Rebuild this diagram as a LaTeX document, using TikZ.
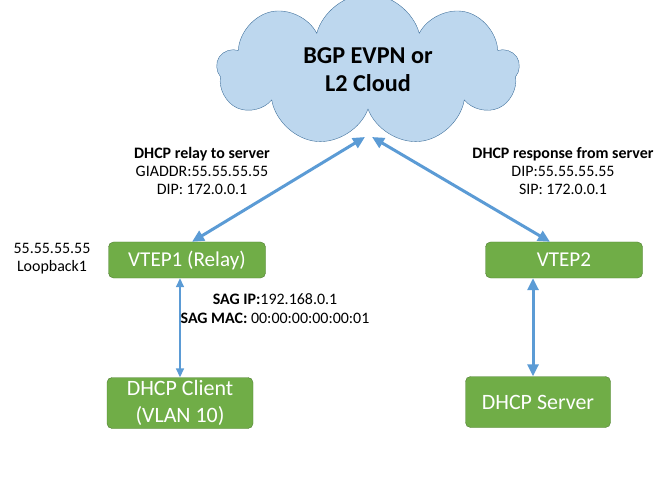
\documentclass[tikz,border=0pt]{standalone}
\usepackage{fontspec}
\setmainfont{Carlito}
\usetikzlibrary{shapes.symbols,arrows.meta}
\definecolor{boxgreen}{HTML}{70AD47}
\definecolor{boxedge}{HTML}{507E32}
\definecolor{cloudfill}{HTML}{BDD7EE}
\definecolor{cloudedge}{HTML}{41719C}
\definecolor{linkblue}{HTML}{5B9BD5}

\begin{document}
\begin{tikzpicture}[x=1bp,y=-1bp,
  box/.style={draw=boxedge, fill=boxgreen, rounded corners=5bp, text=white, inner sep=0pt, align=center},
  link/.style={linkblue, line width=3bp, {Triangle[length=12bp,width=11bp]}-{Triangle[length=12bp,width=11bp]}},
  thinlink/.style={linkblue, line width=1.5bp, {Triangle[length=9bp,width=8bp]}-{Triangle[length=9bp,width=8bp]}},
  note/.style={align=center, font=\fontsize{16}{18.5}\selectfont}]
\useasboundingbox (0,0) rectangle (665,480);

% Cloud
\node[cloud, cloud puffs=9, aspect=2, draw=cloudedge, fill=cloudfill, minimum width=302bp, minimum height=152bp, inner sep=0pt, align=center, font=\bfseries\fontsize{24.3}{28}\selectfont] (cloud) at (368,70) {BGP EVPN or\\L2 Cloud};
\coordinate (cloudl) at (365,137);
\coordinate (cloudr) at (372,137);

% Switches and hosts
\node[box, minimum width=157bp, minimum height=36bp, font=\fontsize{21.2}{24}\selectfont] (vtep1) at (187,260) {VTEP1 (Relay)};
\node[box, minimum width=157bp, minimum height=36bp, font=\fontsize{21.2}{24}\selectfont] (vtep2) at (564,260) {VTEP2};
\node[box, minimum width=146bp, minimum height=51bp, font=\fontsize{22}{27}\selectfont] (client) at (180,403) {DHCP Client\\(VLAN 10)};
\node[box, minimum width=145bp, minimum height=51bp, font=\fontsize{22}{27}\selectfont] (server) at (538,402) {DHCP Server};

% Links
\draw[link] ([xshift=5bp]vtep1.north) -- (cloudl);
\draw[link] ([xshift=-14bp]vtep2.north) -- (cloudr);
\draw[thinlink] (client.north) -- (client.north |- vtep1.south);
\draw[link] ([xshift=-5bp]server.north) -- ([xshift=-5bp]server.north |- vtep2.south);

% Annotations
\node[note] (loop) at (52,258.5) {55.55.55.55\\Loopback1};
\node[note] (relay) at (202,171) {\textbf{DHCP relay to server}\\GIADDR:55.55.55.55\\DIP: 172.0.0.1};
\node[note] (resp) at (563,171) {\textbf{DHCP response from server}\\DIP:55.55.55.55\\SIP: 172.0.0.1};
\node[note] (sag) at (275,308.5) {\textbf{SAG IP:}192.168.0.1\\\textbf{SAG MAC:} 00:00:00:00:00:01};
\end{tikzpicture}
\end{document}
